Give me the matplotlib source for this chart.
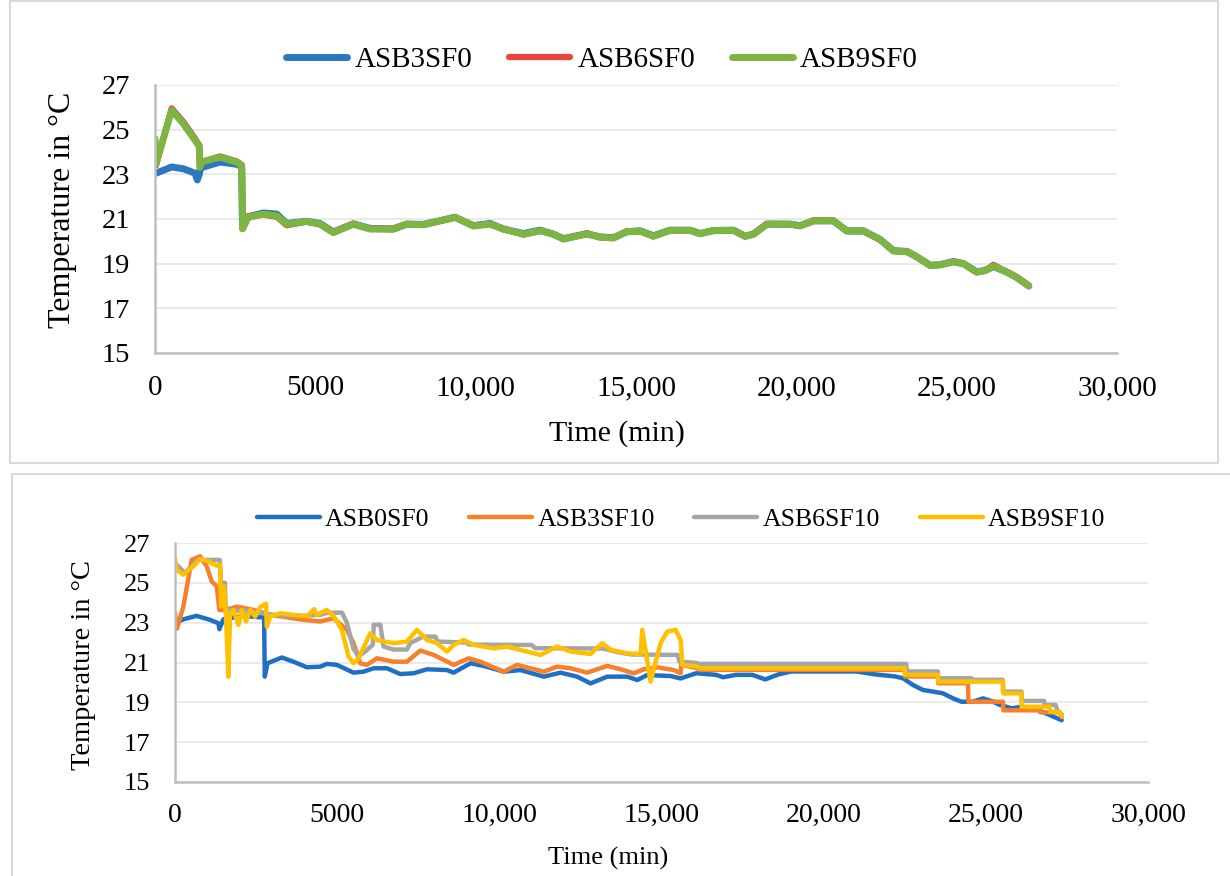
import numpy as np
import matplotlib
matplotlib.use("Agg")
import matplotlib.pyplot as plt
from matplotlib.patches import Rectangle

plt.rcParams['font.family'] = ['Liberation Serif', 'DejaVu Serif']

# ---- top chart: time (min) and temperatures (degC)
t_top = [0, 30, 520, 884, 1248, 1320, 1383, 1400, 1450, 2027, 2547, 2703, 2730, 2900,
         3380, 3795, 4107, 4731, 5146, 5562, 6186, 6706, 7433, 7849, 8369, 8889, 9357,
         9928, 10449, 10864, 11488, 12008, 12424, 12736, 13153, 13465, 13880, 14295,
         14712, 15127, 15543, 16063, 16687, 16998, 17414, 18038, 18402, 18662, 19080,
         19806, 20118, 20533, 21157, 21573, 22092, 22613, 23028, 23445, 23757, 24172,
         24484, 24899, 25211, 25628, 25888, 26147, 26564, 26876, 27250]
asb3sf0 = [23.1, 23.05, 23.33, 23.25, 23.05, 22.75, 23.0, 23.2, 23.3, 23.55, 23.45, 23.35, 20.6, 21.1,
           21.27, 21.22, 20.8, 20.9, 20.8, 20.42, 20.78, 20.58, 20.55, 20.77, 20.76, 20.92, 21.08,
           20.7, 20.8, 20.55, 20.35, 20.5, 20.32, 20.12, 20.25, 20.33, 20.2, 20.16,
           20.43, 20.47, 20.25, 20.5, 20.5, 20.35, 20.48, 20.5, 20.23, 20.33, 20.77,
           20.77, 20.7, 20.92, 20.92, 20.47, 20.47, 20.08, 19.58, 19.55, 19.3, 18.93,
           18.95, 19.1, 19.0, 18.63, 18.7, 18.87, 18.63, 18.38, 18.0]
asb6sf0 = [24.3, 23.4, 25.95, 25.35, 24.6, 24.42, 24.3, 23.35, 23.55, 23.8, 23.58, 23.42, 20.56, 21.12,
           21.2, 21.1, 20.72, 20.88, 20.76, 20.4, 20.8, 20.55, 20.58, 20.78, 20.74, 20.92, 21.07,
           20.72, 20.77, 20.57, 20.3, 20.47, 20.33, 20.1, 20.23, 20.37, 20.18, 20.15,
           20.45, 20.46, 20.22, 20.5, 20.5, 20.34, 20.5, 20.5, 20.22, 20.31, 20.78,
           20.76, 20.69, 20.94, 20.92, 20.46, 20.46, 20.08, 19.57, 19.55, 19.32, 18.92,
           18.95, 19.08, 19.0, 18.62, 18.68, 18.95, 18.62, 18.4, 18.02]
asb9sf0 = [24.6, 23.47, 25.87, 25.27, 24.52, 24.38, 24.22, 23.32, 23.55, 23.77, 23.55, 23.4, 20.56, 21.07,
           21.22, 21.14, 20.77, 20.89, 20.77, 20.39, 20.77, 20.55, 20.55, 20.77, 20.74, 20.92, 21.07,
           20.69, 20.77, 20.55, 20.32, 20.47, 20.32, 20.1, 20.23, 20.34, 20.18, 20.15,
           20.43, 20.46, 20.23, 20.49, 20.49, 20.34, 20.49, 20.49, 20.23, 20.31, 20.77,
           20.77, 20.69, 20.92, 20.92, 20.46, 20.46, 20.08, 19.57, 19.54, 19.31, 18.92,
           18.95, 19.08, 19.0, 18.62, 18.69, 18.89, 18.62, 18.38, 18.0]
top_names = ['ASB3SF0', 'ASB6SF0', 'ASB9SF0']
top_colors = ['#2B77C2', '#E5473F', '#7DB543']

# ---- bottom chart: (time, temperature) pairs per series
asb0sf0 = np.array([
    (0, 22.97), (257, 23.17), (669, 23.34), (1080, 23.14), (1338, 22.97), (1369, 22.67),
    (1492, 23.17), (2109, 23.34), (2624, 23.27), (2747, 23.27), (2768, 20.29), (2850, 20.96),
    (3293, 21.25), (3653, 21.04), (4065, 20.76), (4476, 20.79), (4682, 20.93), (4991, 20.88),
    (5505, 20.49), (5814, 20.54), (6123, 20.71), (6534, 20.71), (6946, 20.42), (7357, 20.46),
    (7769, 20.66), (8386, 20.62), (8592, 20.49), (9107, 20.96), (9518, 20.83), (10135, 20.54),
    (10650, 20.62), (11370, 20.29), (11885, 20.49), (12399, 20.29), (12811, 19.95), (13326, 20.29),
    (13943, 20.29), (14252, 20.12), (14560, 20.37), (15281, 20.32), (15590, 20.2), (16068, 20.46),
    (16685, 20.38), (16900, 20.26), (17300, 20.38), (17800, 20.38), (18200, 20.15), (18600, 20.4),
    (19000, 20.55), (20000, 20.55), (21000, 20.55), (21600, 20.4), (22200, 20.3), (22445, 20.21),
    (22754, 19.87), (23062, 19.62), (23371, 19.54), (23679, 19.45), (23988, 19.2), (24246, 19.03),
    (24600, 19.03), (24915, 19.2), (25200, 19.05), (25429, 18.87), (25800, 18.7), (26100, 18.78),
    (26500, 18.7), (26900, 18.41), (27340, 18.1)])
asb3sf10 = np.array([
    (0, 23.5), (60, 22.7), (257, 23.81), (515, 26.16), (772, 26.33), (978, 25.83), (1132, 25.07),
    (1286, 24.82), (1369, 23.64), (1595, 23.64), (1904, 23.81), (2418, 23.64), (2933, 23.39),
    (3447, 23.27), (3962, 23.14), (4476, 23.06), (4888, 23.22), (5299, 22.64), (5505, 21.97),
    (5711, 20.96), (5917, 20.88), (6226, 21.21), (6740, 21.04), (7152, 21.04), (7563, 21.6),
    (7975, 21.38), (8592, 20.88), (9055, 21.21), (9415, 21.04), (10135, 20.54), (10547, 20.88),
    (11370, 20.54), (11782, 20.79), (12193, 20.71), (12708, 20.49), (13326, 20.83), (13737, 20.66),
    (14149, 20.46), (14457, 20.66), (14869, 20.76), (15384, 20.62), (15590, 20.46), (15610, 21.05),
    (15700, 20.85), (16100, 20.72), (16200, 20.63), (22500, 20.63), (22510, 20.3), (23526, 20.3),
    (23530, 19.96), (24450, 19.96), (24460, 19.03), (25530, 19.03), (25540, 18.6), (26660, 18.6),
    (26670, 18.5), (27280, 18.5), (27340, 18.25)])
asb6sf10 = np.array([
    (0, 26.0), (300, 25.5), (560, 25.9), (700, 26.15), (1380, 26.15), (1420, 25.0), (1540, 25.0),
    (1560, 23.8), (1700, 23.6), (2100, 23.6), (2600, 23.5), (3000, 23.4), (3500, 23.35),
    (4000, 23.35), (4500, 23.4), (4700, 23.5), (5150, 23.5), (5300, 23.0), (5500, 21.7),
    (5660, 21.3), (5900, 21.6), (6100, 21.9), (6130, 22.9), (6330, 22.9), (6430, 21.8),
    (6740, 21.65), (7150, 21.65), (7250, 21.97), (7650, 22.3), (8030, 22.3), (8100, 22.05),
    (9000, 22.0), (9050, 21.9), (11000, 21.88), (11100, 21.72), (13200, 21.7), (13700, 21.5),
    (14100, 21.4), (15500, 21.38), (15550, 21.05), (16100, 20.97), (16150, 20.93), (22550, 20.93),
    (22560, 20.55), (23520, 20.55), (23530, 20.21), (24550, 20.21), (24560, 20.13), (25520, 20.13),
    (25530, 19.54), (26100, 19.54), (26110, 19.07), (26800, 19.07), (26810, 18.87), (27150, 18.87),
    (27200, 18.6), (27340, 18.4)])
asb9sf10 = np.array([
    (0, 26.24), (51, 25.66), (257, 25.41), (566, 25.83), (772, 26.19), (1029, 26.08), (1286, 25.86),
    (1389, 25.91), (1420, 23.81), (1512, 24.82), (1564, 23.6), (1646, 20.29), (1698, 23.47),
    (1800, 23.64), (1955, 22.89), (2060, 23.64), (2190, 23.06), (2320, 23.64), (2470, 23.3),
    (2624, 23.78), (2809, 23.95), (2830, 22.8), (2933, 23.31), (3241, 23.47), (3653, 23.39),
    (4065, 23.31), (4291, 23.68), (4370, 23.39), (4682, 23.64), (4888, 23.34), (5145, 22.64),
    (5351, 21.3), (5505, 20.96), (5660, 21.21), (5800, 21.7), (6020, 22.47), (6226, 22.13),
    (6740, 21.97), (7152, 22.05), (7460, 22.64), (7769, 22.13), (8080, 21.97), (8386, 21.55),
    (8592, 21.88), (8901, 22.13), (9210, 21.88), (9827, 21.71), (10240, 21.8), (10650, 21.63),
    (11267, 21.38), (11782, 21.8), (12193, 21.55), (12811, 21.43), (13171, 21.97), (13450, 21.63),
    (13943, 21.46), (14355, 21.43), (14406, 22.64), (14663, 20.04), (14972, 21.97), (15178, 22.55),
    (15435, 22.64), (15590, 22.13), (15646, 20.88), (16100, 20.8), (16200, 20.71), (22500, 20.71),
    (22510, 20.38), (23526, 20.38), (23530, 20.04), (25530, 20.04), (25540, 19.45), (26097, 19.45),
    (26100, 18.78), (26972, 18.78), (26980, 18.53), (27280, 18.53), (27340, 18.3)])
bottom_series = [asb0sf0, asb3sf10, asb6sf10, asb9sf10]
bottom_names = ['ASB0SF0', 'ASB3SF10', 'ASB6SF10', 'ASB9SF10']
bottom_colors = ['#1F70C4', '#F6802B', '#A5A5A5', '#FFC000']

x_ticks = [0, 5000, 10000, 15000, 20000, 25000, 30000]
x_ticklabels = ['0', '5000', '10,000', '15,000', '20,000', '25,000', '30,000']
y_ticks = [15, 17, 19, 21, 23, 25, 27]

W, H = 1230, 876
fig = plt.figure(figsize=(W / 100, H / 100), dpi=100)

# panel frames
fig.add_artist(Rectangle((10 / W, 1 - 463 / H), 1208 / W, 462 / H, transform=fig.transFigure,
                         fill=False, edgecolor='#D9D9D9', linewidth=1.5))
fig.add_artist(Rectangle((12 / W, -0.05), 1.1, 1 - 474 / H + 0.05, transform=fig.transFigure,
                         fill=False, edgecolor='#D9D9D9', linewidth=1.5))


def style_axes(ax, ypad, xpad, xfs, yfs):
    ax.set_xlim(0, 30000)
    ax.set_ylim(15, 27)
    ax.set_xticks(x_ticks)
    ax.set_xticklabels(x_ticklabels)
    ax.set_yticks(y_ticks)
    ax.grid(axis='y', color='#E6E6E6', linewidth=1.2)
    ax.set_axisbelow(True)
    for s in ['top', 'right']:
        ax.spines[s].set_visible(False)
    for s in ['left', 'bottom']:
        ax.spines[s].set_color('#BFBFBF')
        ax.spines[s].set_linewidth(1.8)
    ax.tick_params(axis='both', length=0, colors='black')
    ax.tick_params(axis='y', pad=ypad, labelsize=yfs)
    ax.tick_params(axis='x', pad=xpad, labelsize=xfs)


# ---- top chart
ax1 = fig.add_axes([155 / W, 1 - 353 / H, 962 / W, 268 / H])
for vals, name, c, lw in zip([asb3sf0, asb6sf0, asb9sf0], top_names, top_colors, [5, 4.5, 5]):
    ax1.plot(t_top, vals, color=c, linewidth=lw, label=name, solid_capstyle='round')
style_axes(ax1, 18, 16, 21, 20.5)
ax1.set_xlabel('Time (min)', fontsize=21.5, va='center')
ax1.xaxis.set_label_coords(0.48, -0.30)
ax1.set_ylabel('Temperature in °C', fontsize=23, va='center')
ax1.yaxis.set_label_coords(-0.096, 0.534)
ax1.legend(loc='center', bbox_to_anchor=(602 / W, 1 - 60 / H), bbox_transform=fig.transFigure,
           ncol=3, frameon=False, fontsize=21, handlelength=2.1, handletextpad=0.25,
           columnspacing=1.25)

# ---- bottom chart
ax2 = fig.add_axes([175 / W, 1 - 782 / H, 973 / W, 239 / H])
for arr, name, c in zip(bottom_series, bottom_names, bottom_colors):
    ax2.plot(arr[:, 0], arr[:, 1], color=c, linewidth=3.2, label=name, solid_capstyle='round')
style_axes(ax2, 18, 15, 20, 19)
ax2.set_xlabel('Time (min)', fontsize=19, va='center')
ax2.xaxis.set_label_coords(0.445, -0.32)
ax2.set_ylabel('Temperature in °C', fontsize=20.5, va='center')
ax2.yaxis.set_label_coords(-0.094, 0.49)
ax2.legend(loc='center', bbox_to_anchor=(681 / W, 1 - 520 / H), bbox_transform=fig.transFigure,
           ncol=4, frameon=False, fontsize=18.5, handlelength=2.45, handletextpad=0.2,
           columnspacing=1.55)

fig.savefig('out.png', dpi=100)
